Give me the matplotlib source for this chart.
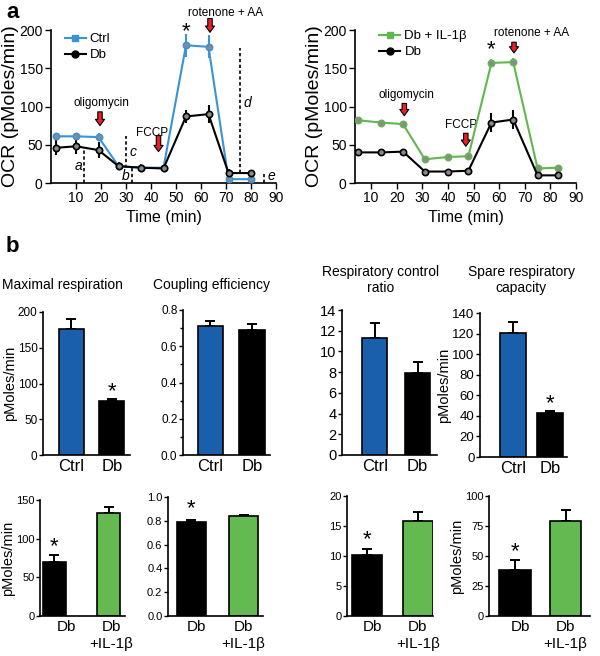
import matplotlib
matplotlib.use("Agg")
import matplotlib.pyplot as plt
from matplotlib.lines import Line2D

plt.rcParams['font.family'] = ['Liberation Sans', 'DejaVu Sans']

# ---- panel a data ----
t_ctrl = [2, 10, 19, 27, 36, 45, 54, 63, 71, 80]
ocr_ctrl = [61, 61, 60, 22, 20, 20, 180, 178, 5, 5]
err_ctrl = [5, 4, 5, 4, 3, 3, 15, 15, 2, 2]
ocr_db = [46, 48, 43, 22, 20, 19, 87, 90, 13, 13]
err_db = [10, 10, 10, 5, 5, 5, 8, 12, 5, 4]

t_il = [5, 14, 22.5, 31, 40, 48, 57, 65.5, 75, 83]
ocr_il = [82, 79, 77, 31, 34, 35, 157, 158, 19, 20]
err_il = [3, 2, 3, 2, 2, 2, 5, 5, 2, 2]
ocr_db2 = [40, 40, 41, 15, 15, 16, 79, 83, 10, 10]
err_db2 = [3, 3, 3, 2, 2, 2, 12, 12, 2, 2]

# ---- panel b data ----
groups1 = ['Ctrl', 'Db']
groups2 = ['Db', 'Db\n+IL-1\u03b2']
max_resp = [176, 75]
max_resp_err = [14, 3.5]
coupling = [0.71, 0.69]
coupling_err = [0.027, 0.035]
rcr = [11.3, 7.9]
rcr_err = [1.45, 1.05]
spare = [121, 43]
spare_err = [10, 2]
max_resp_il = [70, 133]
max_resp_il_err = [8.6, 7.8]
coupling_il = [0.79, 0.84]
coupling_il_err = [0.02, 0.008]
rcr_il = [10.2, 15.9]
rcr_il_err = [0.9, 1.4]
spare_il = [38, 79]
spare_il_err = [8.5, 9]

BLUE_LINE = '#3a92d8'
GREEN_LINE = '#62b650'
BLUE_BAR = '#1a5fac'
GREEN_BAR = '#64b950'

W, H = 600, 656
fig = plt.figure(figsize=(W / 100, H / 100), dpi=100)


def px_axes(x0, x1, ytop, ybot):
    return fig.add_axes([x0 / W, 1 - ybot / H, (x1 - x0) / W, (ybot - ytop) / H])


def red_arrow(ax, x, y0, y1):
    ax.annotate('', xy=(x, y1), xytext=(x, y0), annotation_clip=False,
                arrowprops=dict(arrowstyle='simple,head_width=0.65,head_length=0.45,tail_width=0.32',
                                fc='#e8202a', ec='black', lw=0.8, shrinkA=0, shrinkB=0))


def trace(ax, t, y, e, color):
    ax.errorbar(t, y, yerr=e, color=color, lw=1.5, elinewidth=1.5, capsize=0,
                marker='o', ms=4.5, mfc='#8a8a8a', mec=color, mew=1.2, zorder=3)


def style_top(ax, xlim):
    ax.set_xlim(*xlim)
    ax.set_ylim(0, 200)
    ax.spines['top'].set_visible(False)
    ax.spines['right'].set_visible(False)
    ax.set_xticks(range(10, 100, 10))
    ax.set_yticks([0, 50, 100, 150, 200])
    ax.tick_params(labelsize=10, direction='out', length=4.5, width=1, pad=1.5)
    for s in ax.spines.values():
        s.set_linewidth(1.2)
    ax.set_xlabel('Time (min)', fontsize=11.5, labelpad=3)
    ax.set_ylabel('OCR (pMoles/min)', fontsize=14, labelpad=0)


# ---- panel a left ----
ax = px_axes(51, 276, 30, 183)
trace(ax, t_ctrl, ocr_ctrl, err_ctrl, BLUE_LINE)
trace(ax, t_ctrl, ocr_db, err_db, 'black')
style_top(ax, (0, 90))
for x, y0, y1 in [(13.2, 0, 46), (30, 20, 62), (32.4, 0, 20), (75.5, 13, 177), (85, 0, 12)]:
    ax.plot([x, x], [y0, y1], color='black', lw=1.2, ls=(0, (2, 1.5)))
for txt, x, y in [('a', 11, 22), ('b', 30, 9), ('c', 32.8, 41), ('d', 78.5, 104), ('e', 88, 9)]:
    ax.text(x, y, txt, style='italic', fontsize=10, ha='center', va='center')
red_arrow(ax, 19.6, 93, 75)
ax.text(20, 97, 'oligomycin', fontsize=8.5, ha='center', va='bottom')
red_arrow(ax, 43, 62, 41)
ax.text(40.5, 58, 'FCCP', fontsize=8.5, ha='center', va='bottom')
red_arrow(ax, 63.6, 215, 197)
ax.text(70, 215, 'rotenone + AA', fontsize=8.5, ha='center', va='bottom')
ax.text(54, 184, '*', fontsize=16, ha='center', va='bottom')
h1 = [Line2D([], [], color=BLUE_LINE, marker='s', mfc=BLUE_LINE, mec=BLUE_LINE, ms=5, lw=1.5),
      Line2D([], [], color='black', marker='o', mfc='black', mec='black', ms=5, lw=1.5)]
ax.legend(h1, ['Ctrl', 'Db'], loc='upper left', bbox_to_anchor=(0.06, 0.98), frameon=False,
          fontsize=9.5, handlelength=1.6, handletextpad=0.3, borderpad=0, borderaxespad=0,
          labelspacing=0.3)

# ---- panel a right ----
ax = px_axes(355, 576, 30, 183)
trace(ax, t_il, ocr_il, err_il, GREEN_LINE)
trace(ax, t_il, ocr_db2, err_db2, 'black')
style_top(ax, (3.75, 90))
red_arrow(ax, 23, 104, 88)
ax.text(24, 107, 'oligomycin', fontsize=8.5, ha='center', va='bottom')
red_arrow(ax, 47, 65, 48)
ax.text(45, 68, 'FCCP', fontsize=8.5, ha='center', va='bottom')
red_arrow(ax, 65.8, 184, 170)
ax.text(72.8, 188, 'rotenone + AA', fontsize=8.5, ha='center', va='bottom')
ax.text(57, 160, '*', fontsize=16, ha='center', va='bottom')
h2 = [Line2D([], [], color=GREEN_LINE, marker='s', mfc=GREEN_LINE, mec=GREEN_LINE, ms=5, lw=1.5),
      Line2D([], [], color='black', marker='o', mfc='black', mec='black', ms=5, lw=1.5)]
ax.legend(h2, ['Db + IL-1\u03b2', 'Db'], loc='upper left', bbox_to_anchor=(0.11, 1.0), frameon=False,
          fontsize=9.5, handlelength=1.6, handletextpad=0.3, borderpad=0, borderaxespad=0,
          labelspacing=0.3)


# ---- panel b ----
def bars(box, vals, errs, colors, labels, xlim, width, ylim, yticks, label_fs, minor=None,
         ylabel=False, star=None, tick_x=None, tick_fs=8.5):
    ax = px_axes(*box)
    ax.bar([0, 1], vals, width=width, color=colors, edgecolor='black', lw=1.2, zorder=2)
    for i, (v, e) in enumerate(zip(vals, errs)):
        ax.errorbar(i, v, yerr=[[0], [e]], color='black', lw=1.4, capsize=3.5, capthick=1.4,
                    zorder=1)
    ax.set_xlim(*xlim)
    ax.set_ylim(*ylim)
    ax.set_yticks(yticks)
    if minor is not None:
        ax.set_yticks(minor, minor=True)
    ax.spines['top'].set_visible(False)
    ax.spines['right'].set_visible(False)
    for s in ax.spines.values():
        s.set_linewidth(1.2)
    ax.set_xticks(tick_x if tick_x is not None else [0, 1])
    ax.set_xticklabels(labels, fontsize=label_fs, linespacing=1.3)
    ax.tick_params(axis='x', length=0, pad=3)
    ax.tick_params(axis='y', labelsize=tick_fs, direction='out', length=3, width=1, pad=1)
    ax.tick_params(axis='y', which='minor', length=2.5, width=1)
    if ylabel:
        ax.set_ylabel('pMoles/min', fontsize=10.5, labelpad=0.5)
    if star is not None:
        ax.text(star[0], star[1], '*', fontsize=16, ha='center', va='center')
    return ax


row1 = dict(colors=[BLUE_BAR, 'black'], labels=groups1, label_fs=12)
bars((43, 130, 312, 455), max_resp, max_resp_err, xlim=(-0.7, 1.45), width=0.61,
     ylim=(0, 200), yticks=[0, 50, 100, 150, 200], ylabel=True, star=(1, 89), **row1)
bars((183, 270, 310, 455), coupling, coupling_err, xlim=(-0.66, 1.43), width=0.62,
     ylim=(0, 0.8), yticks=[0, 0.2, 0.4, 0.6, 0.8], minor=[0.1, 0.3, 0.5, 0.7], **row1)
ax = bars((342, 437, 310, 455), rcr, rcr_err, xlim=(-0.76, 1.45), width=0.58,
          ylim=(0, 14), yticks=list(range(0, 16, 2)), **row1)
ax.set_yticklabels([str(v) for v in range(0, 16, 2)], fontsize=10.5)
ax = bars((480, 567, 313, 457), spare, spare_err, xlim=(-0.89, 1.46), width=0.7,
          ylim=(0, 140), yticks=list(range(0, 160, 20)), ylabel=True, star=(1, 52), **row1)
ax.set_yticklabels([str(v) for v in range(0, 160, 20)], fontsize=9.5)

fig.text(2 / W, 1 - 285 / H, 'Maximal respiration', fontsize=10, ha='left', va='center')
fig.text(153 / W, 1 - 285 / H, 'Coupling efficiency', fontsize=10, ha='left', va='center')
fig.text(381 / W, 1 - 280 / H, 'Respiratory control\nratio', fontsize=10, ha='center', va='center',
         linespacing=1.15)
fig.text(521 / W, 1 - 280 / H, 'Spare respiratory\ncapacity', fontsize=10, ha='center', va='center',
         linespacing=1.15)

row2 = dict(colors=['black', GREEN_BAR], labels=groups2, label_fs=11, tick_fs=8)
bars((40, 125, 500, 616), max_resp_il, max_resp_il_err, xlim=(-0.26, 1.3), width=0.42,
     ylim=(0, 150), yticks=[0, 50, 100, 150], ylabel=True, star=(0, 90), tick_x=[0.22, 1.05], **row2)
bars((168, 263, 497, 616), coupling_il, coupling_il_err, xlim=(-0.44, 1.37), width=0.55,
     ylim=(0, 1.0), yticks=[0, 0.2, 0.4, 0.6, 0.8, 1.0], star=(0, 0.9), tick_x=[0.1, 1.0], **row2)
bars((347, 433, 496, 616), rcr_il, rcr_il_err, xlim=(-0.4, 1.3), width=0.6,
     ylim=(0, 20), yticks=[0, 5, 10, 15, 20], star=(0, 12.7), tick_x=[0.1, 1.0], **row2)
bars((489, 590, 496, 616), spare_il, spare_il_err, xlim=(-0.51, 1.48), width=0.62,
     ylim=(0, 100), yticks=[0, 25, 50, 75, 100], ylabel=True, star=(0, 54), tick_x=[0.1, 1.0], **row2)

fig.text(6 / W, 1 - 12 / H, 'a', fontsize=16, fontweight='bold', ha='left', va='center')
fig.text(6 / W, 1 - 246 / H, 'b', fontsize=16, fontweight='bold', ha='left', va='center')

fig.savefig('out.png', dpi=100)
